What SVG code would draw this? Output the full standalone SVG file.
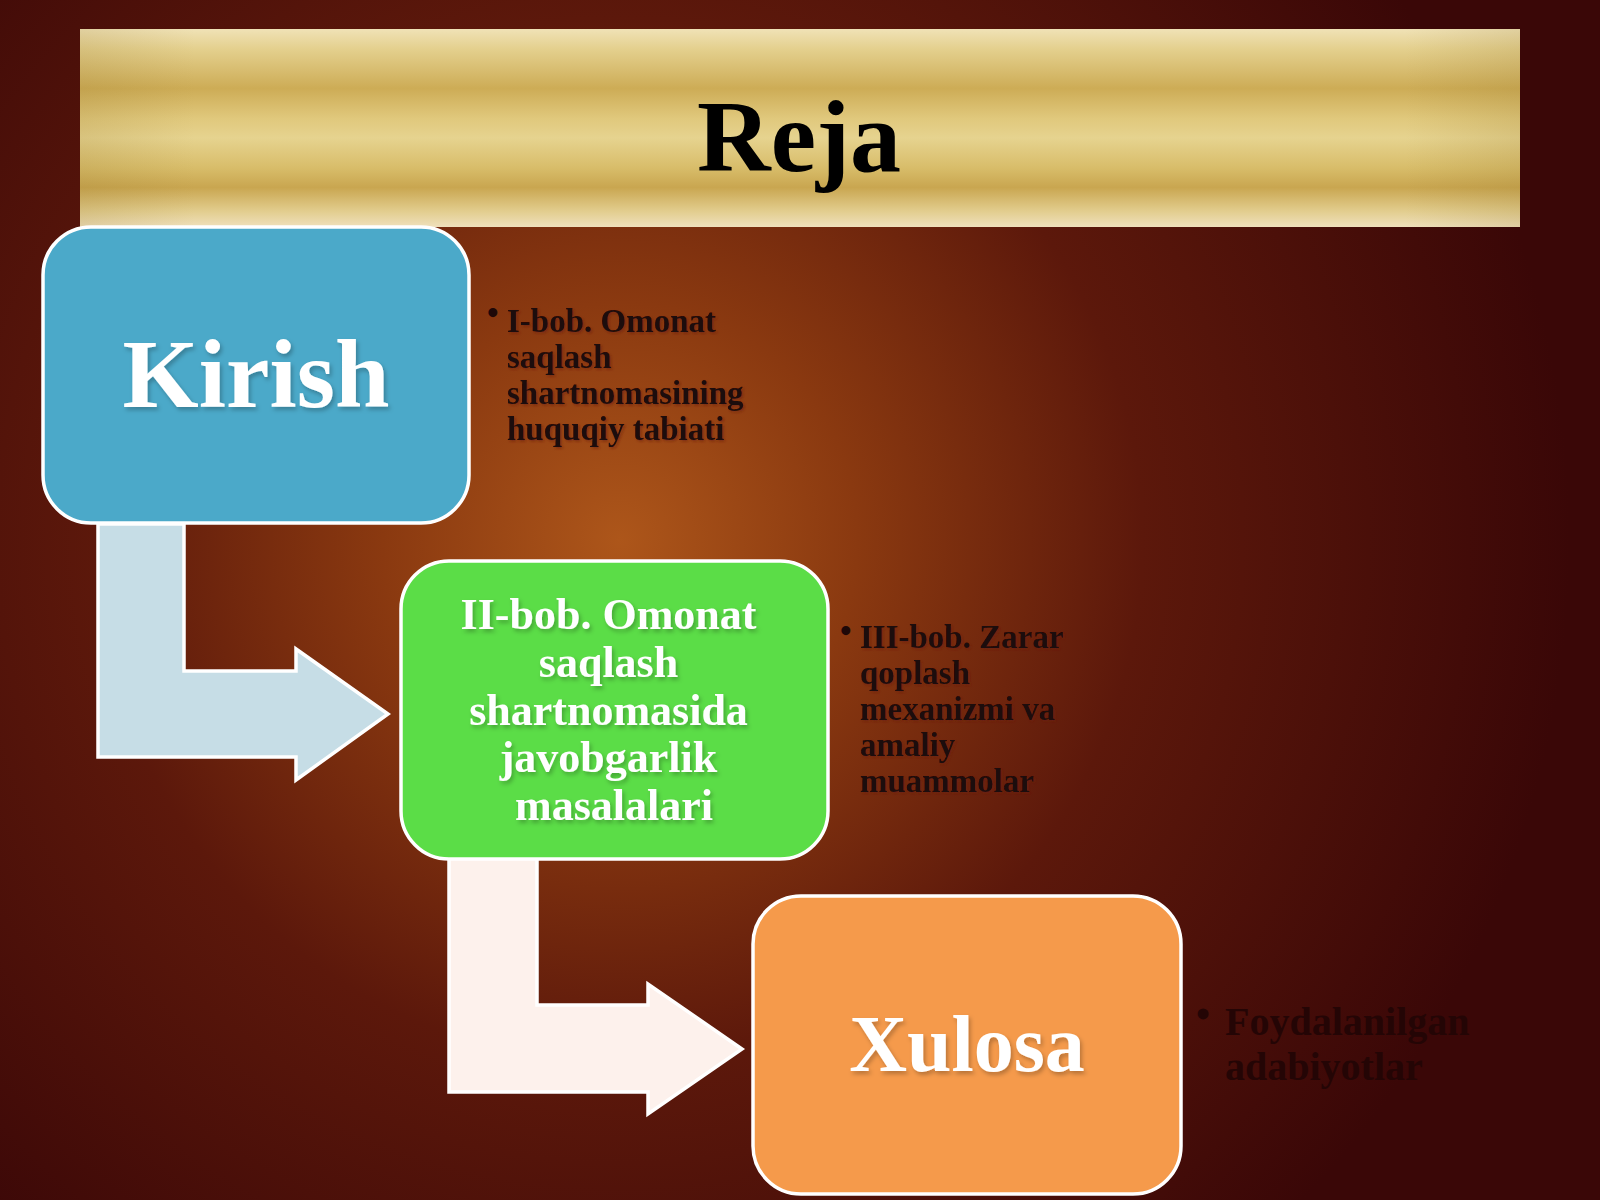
<svg xmlns="http://www.w3.org/2000/svg" width="1600" height="1200" viewBox="0 0 1600 1200">
  <defs>
    <radialGradient id="bg" cx="620" cy="540" r="950" gradientUnits="userSpaceOnUse">
      <stop offset="0" stop-color="#ad561a"/>
      <stop offset="0.25" stop-color="#8a3910"/>
      <stop offset="0.55" stop-color="#5c180b"/>
      <stop offset="1" stop-color="#3a0707"/>
    </radialGradient>
    <linearGradient id="gold" x1="0" y1="29" x2="0" y2="227" gradientUnits="userSpaceOnUse">
      <stop offset="0" stop-color="#f0e2b6"/>
      <stop offset="0.1" stop-color="#e4d08e"/>
      <stop offset="0.3" stop-color="#cdac56"/>
      <stop offset="0.45" stop-color="#e0c87c"/>
      <stop offset="0.55" stop-color="#e6d38f"/>
      <stop offset="0.7" stop-color="#d8bd6a"/>
      <stop offset="0.8" stop-color="#c9a650"/>
      <stop offset="0.92" stop-color="#e2cd8e"/>
      <stop offset="1" stop-color="#efe0bc"/>
    </linearGradient>
    <linearGradient id="goldEdge" x1="80" y1="0" x2="1520" y2="0" gradientUnits="userSpaceOnUse">
      <stop offset="0" stop-color="#8a6a20" stop-opacity="0.15"/>
      <stop offset="0.08" stop-color="#8a6a20" stop-opacity="0"/>
      <stop offset="0.92" stop-color="#8a6a20" stop-opacity="0"/>
      <stop offset="1" stop-color="#8a6a20" stop-opacity="0.15"/>
    </linearGradient>
    <filter id="shadow" x="-10%" y="-10%" width="120%" height="130%">
      <feDropShadow dx="2" dy="3" stdDeviation="2" flood-color="#000" flood-opacity="0.25"/>
    </filter>
    <filter id="tshadow" x="-5%" y="-10%" width="110%" height="130%">
      <feDropShadow dx="1.5" dy="1.5" stdDeviation="1" flood-color="#6a1a0a" flood-opacity="0.6"/>
    </filter>
  </defs>
  <style>
    .box { stroke: #ffffff; stroke-width: 3.5; }
    .big { font-family: "Liberation Serif", "Times New Roman", serif; font-weight: bold; fill: #ffffff; text-anchor: middle; }
    .mid { font-family: "Liberation Serif", "Times New Roman", serif; font-weight: bold; fill: #ffffff; text-anchor: middle; font-size: 44px; }
    .bul { font-family: "Liberation Serif", "Times New Roman", serif; font-weight: bold; fill: #1e0808; font-size: 33px; }
    .bul4 { font-family: "Liberation Serif", "Times New Roman", serif; font-weight: bold; fill: #240505; font-size: 40px; }
    .arrow { stroke: #ffffff; stroke-width: 3.5; stroke-linejoin: miter; }
  </style>

  <rect x="0" y="0" width="1600" height="1200" fill="url(#bg)"/>

  <g id="title">
    <rect x="80" y="29" width="1440" height="198" fill="url(#gold)"/>
    <rect x="80" y="29" width="1440" height="198" fill="url(#goldEdge)"/>
    <text x="799" y="171" font-family="Liberation Serif, Times New Roman, serif" font-weight="bold" font-size="102" fill="#000000" text-anchor="middle">Reja</text>
  </g>

  <g id="connectors">
    <path class="arrow" fill="#c6dde6" d="M98,524 L184,524 L184,671 L296,671 L296,649 L388,714 L296,780 L296,757 L98,757 Z"/>
    <path class="arrow" fill="#fdf1ec" d="M449,858 L537,858 L537,1005 L648,1005 L648,984 L742,1049 L648,1114 L648,1092 L449,1092 Z"/>
  </g>

  <g id="kirish">
    <rect class="box" x="43" y="227" width="426" height="296" rx="48" fill="#4ba9c9"/>
    <text class="big" x="256" y="407" font-size="98" filter="url(#shadow)">Kirish</text>
  </g>

  <g id="bullet-1">
    <text class="bul" x="487" y="324" font-size="20">•</text>
    <text class="bul" filter="url(#tshadow)">
      <tspan x="507" y="332">I-bob. Omonat</tspan>
      <tspan x="507" y="368">saqlash</tspan>
      <tspan x="507" y="404">shartnomasining</tspan>
      <tspan x="507" y="440">huquqiy tabiati</tspan>
    </text>
  </g>

  <g id="bob2">
    <rect class="box" x="401" y="561" width="427" height="298" rx="48" fill="#5bdd47"/>
    <text class="mid" filter="url(#shadow)">
      <tspan x="614" y="629">II-bob. Omonat</tspan>
      <tspan x="614" y="677">saqlash</tspan>
      <tspan x="614" y="725">shartnomasida</tspan>
      <tspan x="614" y="772">javobgarlik</tspan>
      <tspan x="614" y="820">masalalari</tspan>
    </text>
  </g>

  <g id="bullet-3">
    <text class="bul" x="840" y="642" font-size="20">•</text>
    <text class="bul" filter="url(#tshadow)">
      <tspan x="860" y="648">III-bob. Zarar</tspan>
      <tspan x="860" y="684">qoplash</tspan>
      <tspan x="860" y="720">mexanizmi va</tspan>
      <tspan x="860" y="756">amaliy</tspan>
      <tspan x="860" y="792">muammolar</tspan>
    </text>
  </g>

  <g id="xulosa">
    <rect class="box" x="753" y="896" width="428" height="298" rx="48" fill="#f59a4b"/>
    <text class="big" x="967" y="1071" font-size="80" filter="url(#shadow)">Xulosa</text>
  </g>

  <g id="bullet-4">
    <text class="bul4" x="1196" y="1028" font-size="22">•</text>
    <text class="bul4">
      <tspan x="1225" y="1035">Foydalanilgan</tspan>
      <tspan x="1225" y="1080">adabiyotlar</tspan>
    </text>
  </g>
</svg>
